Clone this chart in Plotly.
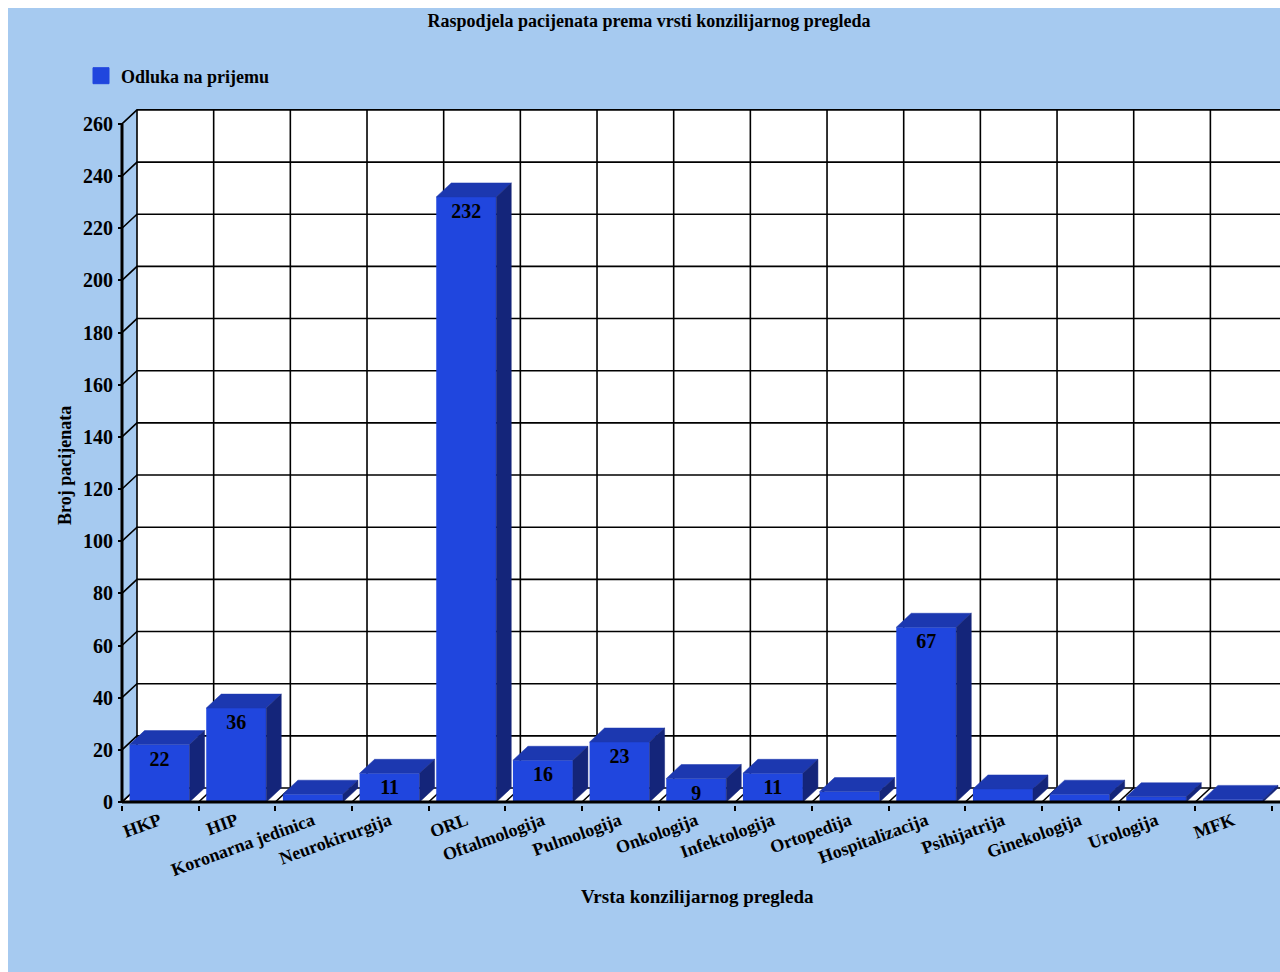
import plotly.graph_objects as go

categories = ["HKP", "HIP", "Koronarna jedinica", "Neurokirurgija", "ORL", "Oftalmologija", "Pulmologija",
              "Onkologija", "Infektologija", "Ortopedija", "Hospitalizacija", "Psihijatrija", "Ginekologija",
              "Urologija", "MFK"]
values = [22, 36, 3, 11, 232, 16, 23, 9, 11, 4, 67, 5, 3, 2, 1]
shown_labels = ["22", "36", "", "11", "232", "16", "23", "9", "11", "", "67", "", "", "", ""]
y_ticks = list(range(0, 261, 20))
series_name = "Odluka na prijemu"

FIG_W, FIG_H = 1272, 964
PX_U = 76.67      # pixels per category
PX_V = 2.608      # pixels per patient
X0 = 114          # fig px of x=0
Y0 = 794          # fig px of y=0
DX = 15 / PX_U    # depth offset
DY = 14 / PX_V
LEFT = 110        # plot area left
BOTTOM = 797
TOP = 100
BAR_W = 60 / PX_U
x_min = (LEFT - X0) / PX_U
x_max = (FIG_W - X0) / PX_U
y_min = -(BOTTOM - Y0) / PX_V
y_max = (Y0 - TOP) / PX_V

FRONT, TOPC, SIDE = "#2046DE", "#1C38B0", "#14257A"
BG = "#A6CAF0"
FONT = "Liberation Serif"
n = len(categories)
centers = [i + 0.49 for i in range(n)]
bounds = list(range(n + 1))


def poly(xs, ys):
    return "M" + " L".join(f"{a},{b}" for a, b in zip(xs, ys)) + " Z"


def line(xs, ys, width=1.6):
    return dict(type="path", xref="x", yref="y", layer="below",
                path="M" + " L".join(f"{a},{b}" for a, b in zip(xs, ys)),
                line=dict(color="black", width=width))


top_y = y_ticks[-1] + DY
shapes = [
    dict(type="path", xref="x", yref="y", layer="below", line_width=0, fillcolor="white",
         path=poly([DX, x_max, x_max, DX], [DY, DY, top_y, top_y])),
    dict(type="path", xref="x", yref="y", layer="below", line_width=0, fillcolor="white",
         path=poly([0, DX, x_max, x_max], [0, DY, DY, 0])),
]
for t in y_ticks:
    shapes.append(line([0, DX, x_max], [t, t + DY, t + DY]))
for b in bounds:
    if b + DX <= x_max:
        shapes.append(line([b, b + DX, b + DX], [0, DY, top_y]))

fig = go.Figure()
fig.add_trace(go.Bar(x=centers, y=values, width=BAR_W, text=shown_labels, textposition="inside",
                     insidetextanchor="end", textangle=0, constraintext="none",
                     insidetextfont=dict(family=FONT, size=20, color="black", weight="bold"),
                     marker=dict(color=FRONT, line_width=0), showlegend=False, hoverinfo="skip"))

for c, v in zip(centers, values):
    l, r = c - BAR_W / 2, c + BAR_W / 2
    fig.add_trace(go.Scatter(x=[l, l + DX, r + DX, r, l], y=[v, v + DY, v + DY, v, v], fill="toself",
                             fillcolor=TOPC, mode="lines", line=dict(width=0.5, color=TOPC),
                             showlegend=False, hoverinfo="skip"))
    fig.add_trace(go.Scatter(x=[r, r + DX, r + DX, r, r], y=[v, v + DY, DY, 0, v], fill="toself",
                             fillcolor=SIDE, mode="lines", line=dict(width=0.5, color=SIDE),
                             showlegend=False, hoverinfo="skip"))

# Thick axis lines
fig.add_trace(go.Scatter(x=[0, 0], y=[0, y_ticks[-1]], mode="lines", line=dict(color="black", width=3),
                         showlegend=False, hoverinfo="skip"))
fig.add_trace(go.Scatter(x=[0, x_max], y=[0, 0], mode="lines", line=dict(color="black", width=3),
                         showlegend=False, hoverinfo="skip"))
# Legend entry
fig.add_trace(go.Scatter(x=[None], y=[None], mode="markers", name=series_name,
                         marker=dict(symbol="square", size=16, color=FRONT, line=dict(width=1, color=FRONT))))

fig.update_layout(
    width=FIG_W, height=FIG_H,
    margin=dict(l=LEFT, r=0, t=TOP, b=FIG_H - BOTTOM, pad=0),
    paper_bgcolor=BG, plot_bgcolor=BG,
    font=dict(family=FONT, size=18, color="black", weight="bold"),
    shapes=shapes,
    title=dict(text="Raspodjela pacijenata prema vrsti konzilijarnog pregleda", x=641 / FIG_W, xanchor="center",
               y=1 - 13 / FIG_H, yanchor="middle", yref="container",
               font=dict(family=FONT, size=18, color="black", weight="bold")),
    legend=dict(x=(78 - LEFT) / (FIG_W - LEFT), y=1 + (TOP - 68) / (BOTTOM - TOP), xanchor="left", yanchor="middle",
                indentation=-5, bgcolor="rgba(0,0,0,0)",
                font=dict(family=FONT, size=18, color="black", weight="bold")),
    xaxis=dict(range=[x_min, x_max], showgrid=False, zeroline=False, showline=False,
               tickmode="array", tickvals=centers, ticktext=categories, tickangle=-20, ticks="", ticklen=0,
               ticklabelstandoff=1, tickfont=dict(family=FONT, size=18, color="black", weight="bold"),
               minor=dict(tickmode="array", tickvals=bounds, ticks="outside", ticklen=5, tickwidth=1.5,
                          tickcolor="black", showgrid=False)),
    yaxis=dict(range=[y_min, y_max], showgrid=False, zeroline=False, showline=False,
               tickmode="array", tickvals=y_ticks, ticks="inside", ticklen=4, tickwidth=1.5, tickcolor="black",
               ticklabelstandoff=4, tickfont=dict(family=FONT, size=20, color="black", weight="bold")),
    annotations=[
        dict(text="Broj pacijenata", xref="paper", yref="paper", x=(57 - LEFT) / (FIG_W - LEFT),
             y=(BOTTOM - 458) / (BOTTOM - TOP), textangle=-90, showarrow=False, xanchor="center", yanchor="middle",
             font=dict(family=FONT, size=18, color="black", weight="bold")),
        dict(text="Vrsta konzilijarnog pregleda", xref="paper", yref="paper", x=(689 - LEFT) / (FIG_W - LEFT),
             y=(BOTTOM - 888) / (BOTTOM - TOP), showarrow=False, xanchor="center", yanchor="middle",
             font=dict(family=FONT, size=19, color="black", weight="bold")),
    ],
)
fig.write_html("out.html", config=dict(displayModeBar=False), default_width="1272px", default_height="964px",
               post_script="document.body.style.width='1272px';document.documentElement.style.overflow='hidden';")
